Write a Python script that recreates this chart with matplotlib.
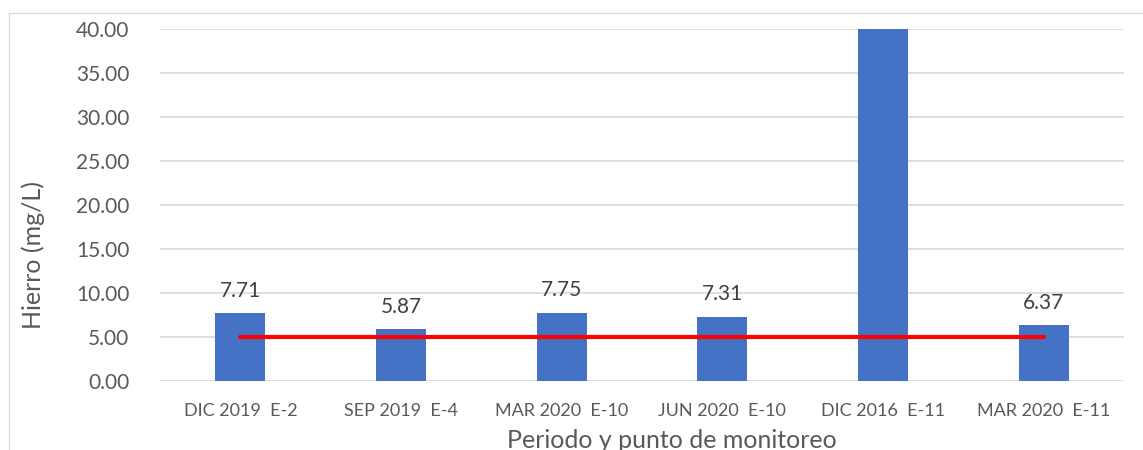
import numpy as np
import matplotlib.pyplot as plt
from matplotlib.lines import Line2D

plt.rcParams['font.family'] = ['Lato', 'DejaVu Sans']

categorias = ["DIC 2019  E-2", "SEP 2019  E-4", "MAR 2020  E-10",
              "JUN 2020  E-10", "DIC 2016  E-11", "MAR 2020  E-11"]
hierro = [7.71, 5.87, 7.75, 7.31, 45.0, 6.37]  # the DIC 2016 bar runs off the top of the chart
limite = [5.0] * 6
yticks = np.arange(0, 45, 5)

gris = "#595959"

fig = plt.figure(figsize=(11.43, 4.5), dpi=100)
ax = fig.add_axes([160 / 1143, 1 - 381 / 450, 964 / 1143, 352 / 450])

x = np.arange(len(categorias))
ax.bar(x, hierro, width=0.31, color="#4472C4", zorder=2)
ax.plot(x, limite, color="#FF0000", linewidth=3, zorder=3, solid_capstyle="round")

for xi, v in zip(x, hierro):
    if v <= 40:
        ax.text(xi, v + 1.4, f"{v:.2f}", ha="center", va="bottom",
                fontsize=15, color="#404040")

ax.set_xlim(-0.5, len(categorias) - 0.5)
ax.set_ylim(0, 40)
ax.set_yticks(yticks)
ax.set_yticklabels([f"{t:.2f}" for t in yticks], fontsize=15, color=gris)
ax.set_xticks(x)
ax.set_xticklabels(categorias, fontsize=13, color=gris)
ax.tick_params(axis="both", length=0)
ax.tick_params(axis="x", pad=16)
ax.tick_params(axis="y", pad=22)
ax.grid(axis="y", color="#D9D9D9", linewidth=1.2, zorder=0)
for s in ax.spines.values():
    s.set_visible(False)

ax.set_ylabel("Hierro (mg/L)", fontsize=18, color=gris)
ax.set_xlabel("Periodo y punto de monitoreo", fontsize=18, color=gris)
ax.yaxis.set_label_coords(-0.119, 0.358)
ax.xaxis.set_label_coords(0.531, -0.136)

# outer chart frame
fig.add_artist(Line2D([9 / 1143, 9 / 1143], [0, 1 - 13 / 450], color="#D9D9D9",
                      linewidth=1, transform=fig.transFigure))
fig.add_artist(Line2D([9 / 1143, 1], [1 - 13 / 450, 1 - 13 / 450], color="#D9D9D9",
                      linewidth=1, transform=fig.transFigure))

fig.savefig("out.png", dpi=100)
